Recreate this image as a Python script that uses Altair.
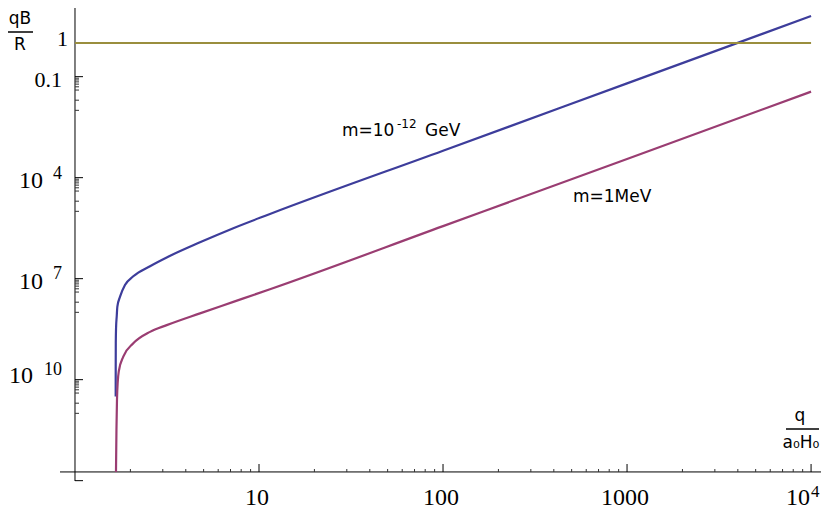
import altair as alt
import pandas as pd

# ---------------- data ----------------
# m = 10^-12 GeV curve : q/(a0 H0) and log10(qB/R)
blue_q = [1.6640, 1.6645, 1.666, 1.672, 1.685, 1.699, 1.757, 1.869, 2.074,
          2.557, 3.150, 4.778, 7.25, 11.47, 100, 1000, 10000]
blue_logy = [-10.50, -9.60, -8.90, -8.45, -8.13, -7.83, -7.535, -7.19, -6.93,
             -6.63, -6.37, -5.92, -5.50, -5.079, -3.20, -1.20, 0.80]

# m = 1 MeV curve
purple_q = [1.670, 1.680, 1.691, 1.708, 1.730, 1.830, 2.074, 2.557, 3.150,
            4.778, 7.25, 11.47, 100, 1000, 10000]
purple_logy = [-12.74, -11.49, -10.60, -10.05, -9.75, -9.317, -8.92, -8.58,
               -8.38, -8.03, -7.69, -7.315, -5.44, -3.445, -1.445]

# reference level qB/R = 1
ref_q = [1, 10000]
ref_y = [1, 1]

# ticks and tick labels
x_major = [10, 100, 1000, 10000]
x_minor = [d * 10 ** k for k in range(4) for d in range(2, 10)]
y_major = [1e-1, 1e-4, 1e-7, 1e-10, 1e-13]
y_minor = [m * f for m in [1e-1, 1e-4, 1e-7, 1e-10]
           for f in [0.9, 0.8, 0.7, 0.6, 0.5, 0.4, 0.2, 0.1]]

y_label_vals = [1, 0.1, 1e-4, 1e-7, 1e-10]
y_label_base = ["1", "0.1", "10", "10", "10"]
y_label_exp = ["", "", "4", "7", "10"]

x_label_vals = [10, 100, 1000, 10000]
x_label_base = ["10", "100", "1000", "10"]
x_label_exp = ["", "", "", "4"]

# ---------------- scales ----------------
XMIN, XMAX = 10 ** -0.0815, 10 ** 4.054
YMIN, YMAX = 10 ** -13.01, 10 ** 1.0395
XAXIS_Y = 10 ** -12.741
W, H = 761, 473

xs = alt.Scale(type="log", domain=[XMIN, XMAX], nice=False)
ys = alt.Scale(type="log", domain=[YMIN, YMAX], nice=False)


def X(f):
    return alt.X(f, type="quantitative", scale=xs, axis=None)


def Y(f):
    return alt.Y(f, type="quantitative", scale=ys, axis=None)


BLUE, PURPLE, OLIVE = "#3d3d9b", "#9a3d72", "#9a8e3e"

rows = []
for q, ly in zip(blue_q, blue_logy):
    rows.append({"q": q, "y": 10 ** ly, "s": "m=1e-12 GeV"})
for q, ly in zip(purple_q, purple_logy):
    rows.append({"q": q, "y": 10 ** ly, "s": "m=1MeV"})
for q, yv in zip(ref_q, ref_y):
    rows.append({"q": q, "y": yv, "s": "ref"})
df_lines = pd.DataFrame(rows)

lines = alt.Chart(df_lines).mark_line(strokeWidth=2.2, interpolate="monotone").encode(
    x=X("q"), y=Y("y"),
    color=alt.Color("s:N", legend=None,
                    scale=alt.Scale(domain=["m=1e-12 GeV", "m=1MeV", "ref"],
                                    range=[BLUE, PURPLE, OLIVE])),
)

# axis lines
yaxis = alt.Chart(pd.DataFrame({"x": [1], "y1": [YMIN], "y2": [YMAX]})).mark_rule(
    color="black", strokeWidth=1).encode(x=X("x"), y=Y("y1"), y2="y2")
xaxis = alt.Chart(pd.DataFrame({"y": [XAXIS_Y]})).mark_rule(
    color="black", strokeWidth=1).encode(y=Y("y"), x=alt.value(0), x2=alt.value(W))

XPIX = 464  # pixel row of the x axis
YPIX = 15   # pixel column of the y axis

xt_major = alt.Chart(pd.DataFrame({"v": x_major})).mark_rule(color="black").encode(
    x=X("v"), y=alt.value(XPIX), y2=alt.value(XPIX - 8))
xt_minor = alt.Chart(pd.DataFrame({"v": x_minor})).mark_rule(color="#333333").encode(
    x=X("v"), y=alt.value(XPIX), y2=alt.value(XPIX - 3))
yt_major = alt.Chart(pd.DataFrame({"v": y_major})).mark_rule(color="black").encode(
    y=Y("v"), x=alt.value(YPIX), x2=alt.value(YPIX + 8))
yt_minor = alt.Chart(pd.DataFrame({"v": y_minor})).mark_rule(color="#333333").encode(
    y=Y("v"), x=alt.value(YPIX), x2=alt.value(YPIX + 4))

layers = [xaxis, yaxis, xt_major, xt_minor, yt_major, yt_minor, lines]

SERIF = "Liberation Serif"
SANS = "DejaVu Sans"

# y tick labels
y_base_dy = [3, 10, 10, 10, 3]
y_exp_dy = [0, 0, 1, 0, -5]
for v, b, e, dyb, dye in zip(y_label_vals, y_label_base, y_label_exp, y_base_dy, y_exp_dy):
    d = pd.DataFrame({"v": [v], "b": [b], "e": [e]})
    if e:
        bx = -27 if len(e) > 1 else -17
        layers.append(alt.Chart(d).mark_text(font=SERIF, fontSize=24, align="right",
                                             baseline="alphabetic", dy=dyb).encode(
            y=Y("v"), x=alt.value(bx), text="b:N"))
        layers.append(alt.Chart(d).mark_text(font=SERIF, fontSize=18, align="right",
                                             baseline="alphabetic", dy=dye).encode(
            y=Y("v"), x=alt.value(2), text="e:N"))
    else:
        xr = 8 if b == "1" else 2
        layers.append(alt.Chart(d).mark_text(font=SERIF, fontSize=22, align="right",
                                             baseline="alphabetic", dy=dyb).encode(
            y=Y("v"), x=alt.value(xr), text="b:N"))

# x tick labels
for v, b, e in zip(x_label_vals, x_label_base, x_label_exp):
    d = pd.DataFrame({"v": [v], "b": [b], "e": [e]})
    if e:
        layers.append(alt.Chart(d).mark_text(font=SERIF, fontSize=24, align="center",
                                             baseline="alphabetic", dx=-13).encode(
            x=X("v"), y=alt.value(497), text="b:N"))
        layers.append(alt.Chart(d).mark_text(font=SERIF, fontSize=17, align="left",
                                             baseline="alphabetic", dx=0).encode(
            x=X("v"), y=alt.value(489), text="e:N"))
    else:
        layers.append(alt.Chart(d).mark_text(font=SERIF, fontSize=24, align="center",
                                             baseline="alphabetic", dx=-2).encode(
            x=X("v"), y=alt.value(497), text="b:N"))

# axis titles
def txt(t, x, y, size=16, align="center", font=SANS):
    return alt.Chart(pd.DataFrame({"t": [t]})).mark_text(
        font=font, fontSize=size, align=align, baseline="alphabetic", color="black"
    ).encode(x=alt.value(x), y=alt.value(y), text="t:N")


def hline(x1, x2, y):
    return alt.Chart(pd.DataFrame({"a": [0]})).mark_rule(color="black", strokeWidth=1.5).encode(
        x=alt.value(x1), x2=alt.value(x2), y=alt.value(y))


layers += [
    txt("qB", -40, 16, 17), hline(-52, -27, 24), txt("R", -40, 42, 17),
    txt("q", 740, 413, 17), hline(726, 759, 421), txt("a₀H₀", 741, 440, 17),
    # curve annotations
    txt("m=10", 282, 128, 17, "left"), txt("-12", 337, 120, 12, "left"),
    txt("GeV", 365, 128, 17, "left"),
    txt("m=1MeV", 513, 194, 17, "left"),
]

chart = alt.layer(*layers).properties(
    width=W, height=H,
    padding={"left": 52, "top": 0, "right": 0, "bottom": 31},
    autosize=alt.AutoSizeParams(type="none"),
).configure_view(stroke=None)

chart.save("out.html", embed_options={"renderer": "svg", "actions": False})
